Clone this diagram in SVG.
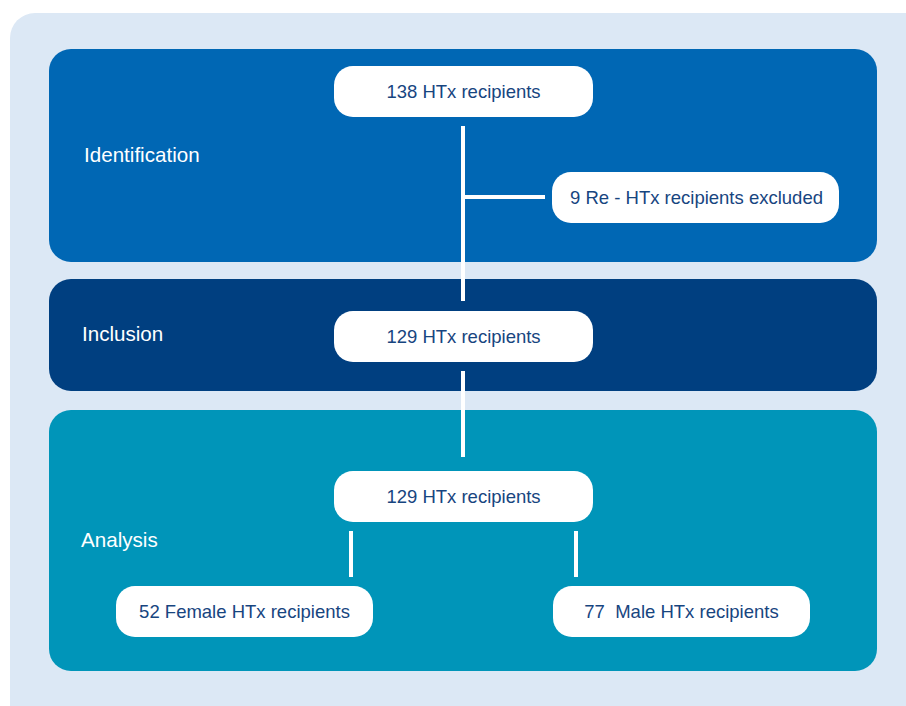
<svg xmlns="http://www.w3.org/2000/svg" width="906" height="706" viewBox="0 0 906 706">
<defs>
<style>
.lbl{font-family:"Liberation Sans",Arial,Helvetica,sans-serif;font-size:20.6px;fill:#ffffff}
.box{fill:#ffffff}
.txt{font-family:"Liberation Sans",Arial,Helvetica,sans-serif;font-size:18.5px;fill:#17457f;text-anchor:middle}
.con line{stroke:#ffffff;stroke-width:4;fill:none}
</style>
</defs>
<rect width="906" height="706" fill="#ffffff"/>
<rect x="10" y="13" width="930" height="730" rx="25" fill="#dce8f5"/>
<g id="band-identification">
<rect x="49" y="49" width="828" height="213" rx="22" fill="#0067b4"/>
<text class="lbl" x="84" y="162">Identification</text>
</g>
<g id="band-inclusion">
<rect x="49" y="279" width="828" height="112" rx="22" fill="#003f80"/>
<text class="lbl" x="82" y="341">Inclusion</text>
</g>
<g id="band-analysis">
<rect x="49" y="410" width="828" height="261" rx="22" fill="#0095b9"/>
<text class="lbl" x="81" y="547">Analysis</text>
</g>
<g class="con" id="connectors">
<line x1="463" y1="126" x2="463" y2="301"/>
<line x1="463" y1="197" x2="545" y2="197"/>
<line x1="463" y1="371" x2="463" y2="457"/>
<line x1="351" y1="531" x2="351" y2="577"/>
<line x1="576" y1="531" x2="576" y2="577"/>
</g>
<g id="n138">
<rect class="box" x="334" y="66" width="259" height="51" rx="19"/>
<text class="txt" x="463.5" y="98">138 HTx recipients</text>
</g>
<g id="nexcluded">
<rect class="box" x="552" y="172" width="287" height="51" rx="19"/>
<text class="txt" x="696.5" y="204">9 Re - HTx recipients excluded</text>
</g>
<g id="n129inc">
<rect class="box" x="334" y="311" width="259" height="51" rx="19"/>
<text class="txt" x="463.5" y="343">129 HTx recipients</text>
</g>
<g id="n129ana">
<rect class="box" x="334" y="471" width="259" height="51" rx="19"/>
<text class="txt" x="463.5" y="503">129 HTx recipients</text>
</g>
<g id="nfemale">
<rect class="box" x="116" y="586" width="257" height="51" rx="19"/>
<text class="txt" x="244.5" y="618">52 Female HTx recipients</text>
</g>
<g id="nmale">
<rect class="box" x="553" y="586" width="257" height="51" rx="19"/>
<text class="txt" x="681.5" y="618" xml:space="preserve">77  Male HTx recipients</text>
</g>
</svg>
